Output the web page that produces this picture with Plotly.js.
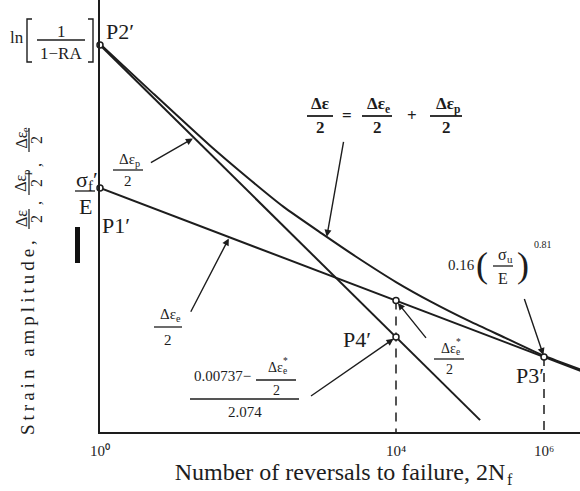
<!DOCTYPE html>
<html>
<head>
<meta charset="utf-8">
<script src="https://cdn.plot.ly/plotly-3.0.1.min.js"></script>
<style>
  html, body { margin: 0; padding: 0; background: #fff; }
  #chart { width: 580px; height: 491px; }
</style>
</head>
<body>
<div id="chart"></div>
<script>
// Strain–life schematic: elastic, plastic and total strain amplitude
// against reversals to failure, with the four construction points.

const pointLabels = ['P1′', 'P2′', 'P3′', 'P4′'];
const pointReversals = [1, 1, 1e6, 1e4];
const pointStrain = [0.0186, 0.5, 0.00038, 0.0006];

const elasticReversals = [1, 1e4, 1e6, 3.1e6];
const elasticStrain = [0.0186, 0.00139, 0.00038, 0.000276];

const plasticReversals = [1, 1e4, 1.37e5];
const plasticStrain = [0.5, 0.0006, 0.0000887];

const totalReversals = [1, 5, 30, 100, 300, 1000, 3000, 1e4, 3e4, 1e5, 3e5, 1e6, 3.1e6];
const totalStrain = [0.512, 0.169, 0.050, 0.0234, 0.0121, 0.0065, 0.00375, 0.00213,
                     0.00135, 0.00086, 0.00059, 0.00039, 0.000284];

const tickValues = [1, 1e4, 1e6];
const tickLabels = ['10⁰', '10⁴', '10⁶'];

// ---- styling and helpers ---------------------------------------------
const SERIF = 'Liberation Serif, Times New Roman, serif';
const INK = '#1d1d1d';
const X_RANGE = [0, 6.4865];
const Y_RANGE = [-4.171, 0.149];
const yFloor = Math.pow(10, Y_RANGE[0]);
const lg = Math.log10;

// log-log interpolation along one of the drawn series
function strainOn(ns, vs, n) {
  const L = lg(n);
  for (let i = 0; i < ns.length - 1; i++) {
    const a = lg(ns[i]), b = lg(ns[i + 1]);
    if (L >= a && L <= b) {
      const t = (L - a) / (b - a);
      return Math.pow(10, lg(vs[i]) + t * (lg(vs[i + 1]) - lg(vs[i])));
    }
  }
  return vs[vs.length - 1];
}

// page pixel -> paper fraction (plot area: x 100..580, y 0..432)
const fx = x => (x - 100) / 480;
const fy = y => (432 - y) / 432;

const ann = [];
const shp = [];

function font(size, bold) {
  const f = { family: SERIF, size: size, color: INK };
  if (bold) f.weight = 'bold';
  return f;
}

const measureCtx = document.createElement('canvas').getContext('2d');
function measure(t, size, bold) {
  measureCtx.font = (bold ? 'bold ' : '') + size + 'px "Liberation Serif"';
  return measureCtx.measureText(t).width;
}

// Text made of runs: [text] plain, [text, 'sub'] subscript, [text, 'sup']
// superscript, [text, 'over'] superscript stacked above the previous run.
function txt(content, cx, cy, size, opts) {
  opts = opts || {};
  const runs = typeof content === 'string' ? [[content]] : content;
  const rot = opts.angle === -90;
  let pos = 0, prevStart = 0;
  const placed = runs.map(r => {
    const kind = r[1] || '';
    const s = kind ? size * 0.68 : size;
    const w = measure(r[0], s, opts.bold);
    let start;
    if (kind === 'over') { start = prevStart; pos = Math.max(pos, start + w); }
    else { start = pos; prevStart = start; pos += w; }
    return { t: r[0], kind, s, start };
  });
  const total = pos;
  placed.forEach(p => {
    const off = p.kind === 'sub' ? 0.3 * size : (p.kind ? -0.42 * size : 0);
    const a = { text: p.t, xref: 'paper', yref: 'paper', showarrow: false,
                font: font(p.s, opts.bold) };
    if (placed.length === 1) {
      Object.assign(a, { x: fx(cx), y: fy(cy), xanchor: 'center', yanchor: 'middle',
                         textangle: rot ? -90 : 0 });
    } else if (!rot) {
      Object.assign(a, { x: fx(cx - total / 2 + p.start), y: fy(cy + off),
                         xanchor: 'left', yanchor: 'middle' });
    } else {
      Object.assign(a, { x: fx(cx + off), y: fy(cy + total / 2 - p.start),
                         xanchor: 'center', yanchor: 'bottom', textangle: -90 });
    }
    ann.push(a);
  });
}
function hbar(x0, x1, y, w) {
  shp.push({ type: 'line', xref: 'paper', yref: 'paper', x0: fx(x0), x1: fx(x1),
             y0: fy(y), y1: fy(y), line: { color: INK, width: w || 1.3 } });
}
function vbar(x, y0, y1, w) {
  shp.push({ type: 'line', xref: 'paper', yref: 'paper', x0: fx(x), x1: fx(x),
             y0: fy(y0), y1: fy(y1), line: { color: INK, width: w || 1.3 } });
}
function frac(cx, num, den, numY, barY, denY, half, size, opts) {
  txt(num, cx, numY, size, opts);
  hbar(cx - half, cx + half, barY, opts && opts.bold ? 1.8 : 1.3);
  txt(den, cx, denY, size, opts);
}
// fraction turned a quarter turn, read from bottom to top
function vfrac(cy, num, den, half, size) {
  txt(num, 21, cy, size, { angle: -90 });
  vbar(29, cy - half, cy + half, 1.2);
  txt(den, 36, cy, size, { angle: -90 });
}
function arrow(n, strain, ax, ay, standoff) {
  ann.push({
    x: lg(n), y: lg(strain), xref: 'x', yref: 'y', ax: ax, ay: ay, text: ' ',
    font: font(10), showarrow: true, arrowhead: 2, arrowsize: 1, arrowwidth: 1.4,
    arrowcolor: INK, standoff: standoff || 0
  });
}

const dEp = [['Δε'], ['p', 'sub']];
const dEe = [['Δε'], ['e', 'sub']];
const dEeStar = [['Δε'], ['e', 'sub'], ['*', 'over']];

// ---- labels on the strain axis ----------------------------------------
txt('ln', 17, 38, 17);
shp.push({ type: 'path', xref: 'paper', yref: 'paper', line: { color: INK, width: 1.4 },
  path: `M ${fx(32)},${fy(19)} L ${fx(27)},${fy(19)} L ${fx(27)},${fy(62)} L ${fx(32)},${fy(62)}` });
shp.push({ type: 'path', xref: 'paper', yref: 'paper', line: { color: INK, width: 1.4 },
  path: `M ${fx(88)},${fy(19)} L ${fx(93)},${fy(19)} L ${fx(93)},${fy(62)} L ${fx(88)},${fy(62)}` });
frac(61, '1', '1−RA', 31, 40, 53, 24, 17);

frac(85, [['σ'], ['f', 'sub'], ['′']], 'E', 179, 191, 206, 10, 22);
shp.push({ type: 'rect', xref: 'paper', yref: 'paper', x0: fx(75), x1: fx(80),
           y0: fy(227), y1: fy(263), fillcolor: '#111', line: { width: 0 } });

// rotated strain-axis title
txt('<span style="letter-spacing:4px">Strain amplitude,</span>', 27, 336, 19, { angle: -90 });
vfrac(219, 'Δε', '2', 10, 16);
txt(',', 35, 203, 16, { angle: -90 });
vfrac(183, dEp, '2', 12, 16);
txt(',', 35, 165, 16, { angle: -90 });
vfrac(140, dEe, '2', 12, 16);

// ---- construction-point labels -----------------------------------------
const labelShift = [[16, -38], [20, 14], [-14, -19], [-39, -2]];
pointLabels.forEach((t, i) => {
  ann.push({
    text: t, x: lg(pointReversals[i]), y: lg(pointStrain[i]), xref: 'x', yref: 'y',
    xshift: labelShift[i][0], yshift: labelShift[i][1], showarrow: false,
    font: font(22)
  });
});

// ---- callouts ----------------------------------------------------------
// plastic line
frac(128, dEp, '2', 159, 170, 181, 15, 15);
arrow(18, 0.96 * strainOn(plasticReversals, plasticStrain, 18), -45, 26);

// elastic line
frac(168, dEe, '2', 314, 327, 340, 14, 15);
arrow(55, 0.965 * strainOn(elasticReversals, elasticStrain, 55), -41, 79);

// total = elastic + plastic
frac(320, 'Δε', '2', 104, 116, 127, 13, 17, { bold: true });
txt('=', 347, 115, 17, { bold: true });
frac(377, dEe, '2', 104, 116, 127, 15, 17, { bold: true });
txt('+', 412, 116, 17, { bold: true });
frac(446, dEp, '2', 104, 116, 127, 16, 17, { bold: true });
arrow(1160, strainOn(totalReversals, totalStrain, 1160), 18, -102);

// P3′ elastic strain
txt('0.16', 461, 265, 15);
txt('(', 482, 265, 36);
frac(503, [['σ'], ['u', 'sub']], 'E', 254, 266, 278, 10, 16);
txt(')', 523, 265, 36);
txt('0.81', 543, 244, 10);
arrow(pointReversals[2], pointStrain[2], -22, -65, 2);

// elastic strain at 10^4
frac(449, dEeStar, '2', 348, 359, 369, 15, 14);
arrow(1e4, elasticStrain[1], 33, 41, 3);

// P4′ plastic strain
txt('0.00737−', 222, 376, 15);
frac(276, dEeStar, '2', 367, 380, 390, 20, 14);
hbar(190, 299, 399, 1.5);
txt('2.074', 245, 412, 15);
arrow(pointReversals[3], pointStrain[3], -88, 61, 3);

// ---- traces ------------------------------------------------------------
const lineStyle = { color: INK, width: 2 };
const traces = [
  { x: elasticReversals, y: elasticStrain, mode: 'lines', line: lineStyle, name: 'elastic' },
  { x: plasticReversals, y: plasticStrain, mode: 'lines', line: lineStyle, name: 'plastic' },
  { x: totalReversals, y: totalStrain, mode: 'lines',
    line: Object.assign({ shape: 'spline', smoothing: 0.6 }, lineStyle), name: 'total' },
  { x: [1e4, 1e4], y: [elasticStrain[1], yFloor], mode: 'lines',
    line: { color: INK, width: 1.5, dash: '9px,7px' }, name: '' },
  { x: [pointReversals[2], pointReversals[2]], y: [pointStrain[2], yFloor], mode: 'lines',
    line: { color: INK, width: 1.5, dash: '9px,7px' }, name: '' },
  { x: pointReversals.concat([1e4]), y: pointStrain.concat([elasticStrain[1]]),
    mode: 'markers', cliponaxis: false,
    marker: { size: 6, color: '#fff', line: { color: INK, width: 1.5 } }, name: '' }
];

const layout = {
  width: 580, height: 491,
  margin: { l: 100, r: 0, t: 0, b: 59 },
  paper_bgcolor: '#fff', plot_bgcolor: '#fff',
  font: { family: SERIF, color: INK },
  showlegend: false,
  xaxis: {
    type: 'log', range: X_RANGE, showgrid: false, zeroline: false,
    showline: true, linecolor: INK, linewidth: 2, ticks: '',
    tickvals: tickValues, ticktext: tickLabels, ticklabelstandoff: 4,
    tickfont: font(15),
    title: { text: 'Number of reversals to failure, 2N', font: font(24), standoff: 5 }
  },
  yaxis: {
    type: 'log', range: Y_RANGE, showgrid: false, zeroline: false,
    showline: true, linecolor: INK, linewidth: 2, ticks: '', showticklabels: false
  },
  annotations: ann,
  shapes: shp
};

Plotly.newPlot('chart', traces, layout, { displayModeBar: false, staticPlot: true })
  .then(gd => {
    // subscript f of 2N_f, set just after the axis title
    const t = gd.querySelector('.xtitle');
    if (!t) return;
    const b = t.getBoundingClientRect();
    const upd = {};
    upd['annotations[' + ann.length + ']'] = {
      text: 'f', xref: 'paper', yref: 'paper', showarrow: false,
      x: fx(b.right), y: fy(b.top + b.height * 0.78), xanchor: 'left', yanchor: 'middle',
      font: font(16)
    };
    return Plotly.relayout(gd, upd);
  });
</script>
</body>
</html>
